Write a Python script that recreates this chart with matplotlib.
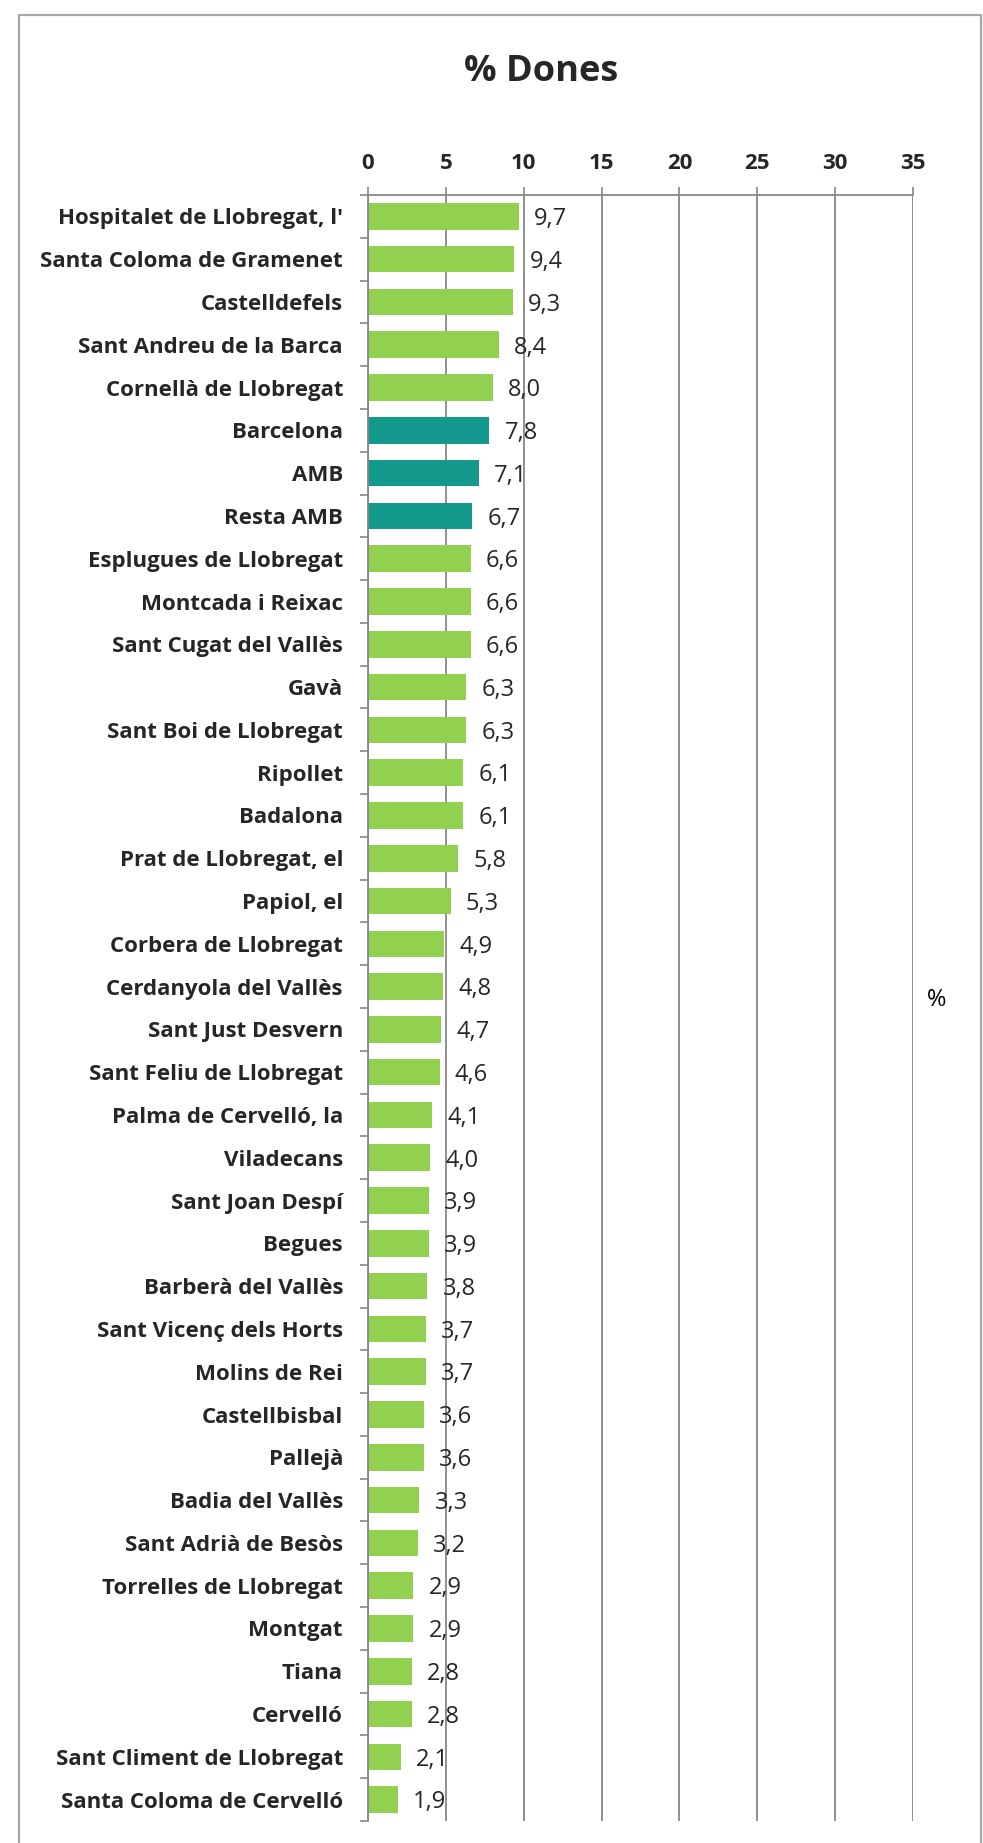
import matplotlib
matplotlib.use("Agg")
import matplotlib.pyplot as plt
import numpy as np

plt.rcParams['font.family'] = ['Open Sans', 'DejaVu Sans']

municipis = ["Hospitalet de Llobregat, l'", "Santa Coloma de Gramenet", "Castelldefels",
             "Sant Andreu de la Barca", "Cornellà de Llobregat", "Barcelona", "AMB", "Resta AMB",
             "Esplugues de Llobregat", "Montcada i Reixac", "Sant Cugat del Vallès", "Gavà",
             "Sant Boi de Llobregat", "Ripollet", "Badalona", "Prat de Llobregat, el", "Papiol, el",
             "Corbera de Llobregat", "Cerdanyola del Vallès", "Sant Just Desvern",
             "Sant Feliu de Llobregat", "Palma de Cervelló, la", "Viladecans", "Sant Joan Despí",
             "Begues", "Barberà del Vallès", "Sant Vicenç dels Horts", "Molins de Rei",
             "Castellbisbal", "Pallejà", "Badia del Vallès", "Sant Adrià de Besòs",
             "Torrelles de Llobregat", "Montgat", "Tiana", "Cervelló",
             "Sant Climent de Llobregat", "Santa Coloma de Cervelló"]
dones = [9.7, 9.4, 9.3, 8.4, 8.0, 7.8, 7.1, 6.7, 6.6, 6.6, 6.6, 6.3, 6.3, 6.1, 6.1, 5.8, 5.3,
         4.9, 4.8, 4.7, 4.6, 4.1, 4.0, 3.9, 3.9, 3.8, 3.7, 3.7, 3.6, 3.6, 3.3, 3.2, 2.9, 2.9,
         2.8, 2.8, 2.1, 1.9]
# Barcelona, AMB and Resta AMB are highlighted
destacats = ["Barcelona", "AMB", "Resta AMB"]
ticks_x = [0, 5, 10, 15, 20, 25, 30, 35]

verd = "#92d050"
teal = "#139a8c"
gris = "#878787"
text_color = "#262626"

W, H = 983, 1843
fig = plt.figure(figsize=(W / 100, H / 100), dpi=100)
ax = fig.add_axes([368 / W, 22 / H, (913 - 368) / W, (1821 - 195) / H])

n = len(municipis)
y = np.arange(n)
colors = [teal if m in destacats else verd for m in municipis]
ax.barh(y, dones, height=0.62, color=colors, zorder=2)

for i, v in enumerate(dones):
    ax.annotate(f"{v:.1f}".replace(".", ","), (v, i), xytext=(11, -2),
                textcoords="offset points", ha="left", va="center",
                fontsize=17, color=text_color)

ax.set_xlim(0, 35)
ax.set_ylim(n - 0.5, -0.5)
ax.xaxis.tick_top()
ax.set_xticks(ticks_x)
ax.set_xticklabels([str(t) for t in ticks_x], fontweight="bold", fontsize=16, color=text_color)
ax.tick_params(axis="x", length=5.8, width=1.2, color=gris, pad=9)

ax.set_yticks(np.arange(-0.5, n, 1))
ax.set_yticklabels([])
ax.set_yticks(y, minor=True)
ax.set_yticklabels(municipis, minor=True, fontweight="bold", fontsize=16, color=text_color)
ax.tick_params(axis="y", which="major", length=5.8, width=1.2, color=gris)
ax.tick_params(axis="y", which="minor", length=0, pad=18)

ax.grid(axis="x", color=gris, linewidth=1.3, zorder=0)
ax.set_axisbelow(True)
for s in ["right", "bottom"]:
    ax.spines[s].set_visible(False)
for s in ["top", "left"]:
    ax.spines[s].set_color(gris)
    ax.spines[s].set_linewidth(1.3)

fig.text(541 / W, 1 - 72 / H, "% Dones", ha="center", va="center",
         fontsize=26, fontweight="bold", color=text_color)
fig.text(937 / W, 1 - 1000 / H, "%", ha="center", va="center", fontsize=17, color="black")

# chart frame
x0, x1, y1 = 19 / W, 981 / W, 1 - 15 / H
fig.add_artist(plt.Line2D([x0, x0, x1, x1], [-0.01, y1, y1, -0.01],
                          transform=fig.transFigure, color="#a6a6a6", linewidth=1.6))

fig.savefig("out.png", dpi=100)
